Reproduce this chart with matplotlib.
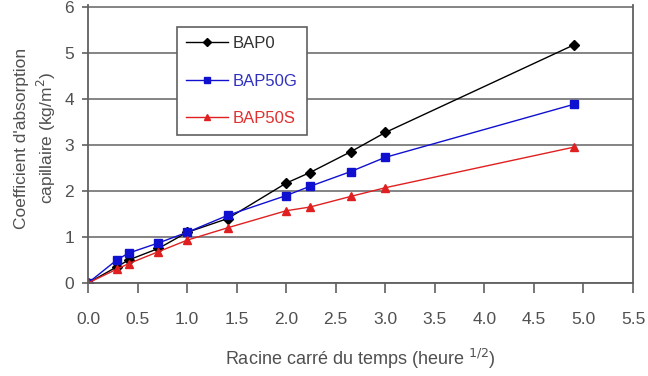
import matplotlib
matplotlib.use("Agg")
from matplotlib import pyplot as plt

# racine du temps (heure^1/2)
x = [0, 0.29, 0.41, 0.71, 1.0, 1.41, 2.0, 2.24, 2.65, 3.0, 4.9]
bap0 = [0, 0.35, 0.5, 0.75, 1.1, 1.4, 2.17, 2.4, 2.85, 3.27, 5.17]
bap50g = [0, 0.5, 0.65, 0.87, 1.1, 1.47, 1.9, 2.1, 2.42, 2.73, 3.88]
bap50s = [0, 0.3, 0.42, 0.68, 0.93, 1.2, 1.57, 1.65, 1.88, 2.07, 2.95]
xticks = [0.0, 0.5, 1.0, 1.5, 2.0, 2.5, 3.0, 3.5, 4.0, 4.5, 5.0, 5.5]
yticks = [0, 1, 2, 3, 4, 5, 6]

plt.rcParams['font.family'] = ['Liberation Sans', 'DejaVu Sans']
txt = '#505050'

fig = plt.figure(figsize=(6.48, 3.76), dpi=100)
W, H = 648, 376
ax = fig.add_axes([88 / W, (H - 283) / H, (633 - 88) / W, (283 - 5) / H])

ax.plot(x, bap0, color='black', marker='D', ms=5, lw=1, label='BAP0')
ax.plot(x, bap50g, color='#1010d0', marker='s', ms=6, lw=1, label='BAP50G')
ax.plot(x, bap50s, color='#e02020', marker='^', ms=6, lw=1, label='BAP50S')

ax.set_xlim(0, 5.5)
ax.set_ylim(0, 6.04)
ax.set_xticks(xticks)
ax.set_xticklabels(['%.1f' % v for v in xticks])
ax.set_yticks(yticks)
ax.yaxis.grid(True, color='#707070', lw=1.2)
ax.set_axisbelow(True)
for s in ['left', 'right', 'bottom']:
    ax.spines[s].set_color('#606060')
    ax.spines[s].set_linewidth(1.3)
ax.spines['top'].set_visible(False)
ax.tick_params(colors='#606060', labelcolor=txt, labelsize=12.5, width=1.2)
ax.tick_params(axis='x', length=7, pad=14)
ax.tick_params(axis='y', length=4, pad=6)

ax.set_xlabel('Racine carré du temps (heure $^{1/2}$)', color=txt, fontsize=13, labelpad=14)
ax.set_ylabel("Coefficient d'absorption\ncapillaire (kg/m$^2$)", color=txt, fontsize=12.5,
              linespacing=1.35)
ax.yaxis.set_label_coords(-0.055, 0.52)

leg = ax.legend(loc='upper left', bbox_to_anchor=(177 / W, (H - 27) / H), bbox_transform=fig.transFigure,
                fancybox=False, framealpha=1, edgecolor='#606060', fontsize=12, handlelength=2.5,
                handletextpad=0.3, labelspacing=1.35, borderpad=0.55, borderaxespad=0, markerscale=0.8)
leg.get_frame().set_linewidth(1.2)
for t, c in zip(leg.get_texts(), ['#303030', '#3030c0', '#e03030']):
    t.set_color(c)

fig.savefig('out.png', dpi=100)
